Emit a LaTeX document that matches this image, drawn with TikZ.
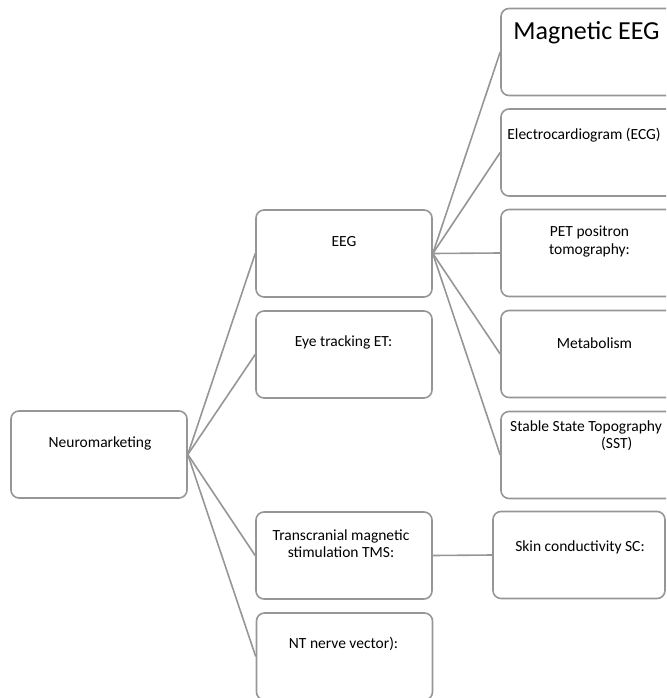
\documentclass[tikz,border=0pt]{standalone}
\usepackage{fontspec}
\setmainfont{Carlito}
\begin{document}
\begin{tikzpicture}[x=1pt,y=-1pt,
  box/.style={draw=linegray, line width=1.6pt, rounded corners=8pt, minimum width=176pt, minimum height=87pt, inner sep=0pt},
  txt/.style={inner sep=0pt, align=center, font=\fontsize{15.5}{17.5}\selectfont},
  bigtxt/.style={inner sep=0pt, align=center, font=\fontsize{26}{30}\selectfont},
  conn/.style={draw=linegray, line width=1.6pt}]
\definecolor{linegray}{RGB}{150,150,150}
\useasboundingbox (0,0) rectangle (666,698);
\clip (0,0) rectangle (666,698);
% boxes
\node[box] (neuro) at (99,454.5) {};
\node[box] (eeg) at (344,253.5) {};
\node[box] (eye) at (344,354.5) {};
\node[box] (tms) at (344,555.5) {};
\node[box] (nt) at (344.5,656.5) {};
\node[box] (mag) at (589,52) {};
\node[box] (ecg) at (589,152.5) {};
\node[box] (pet) at (589,253) {};
\node[box] (met) at (589,354) {};
\node[box] (sst) at (589,455) {};
\node[box, minimum width=172pt] (skin) at (579,555) {};
% texts
\node[txt] (tneuro) at (100,443) {Neuromarketing};
\node[txt] (teeg) at (344,242) {EEG};
\node[txt] (teye) at (343.5,342) {Eye tracking ET:};
\node[txt] (ttms) at (341,543.5) {Transcranial magnetic\\ stimulation TMS:};
\node[txt] (tnt) at (343.5,644) {NT nerve vector):};
\node[bigtxt] (tmag) at (586.5,33) {Magnetic EEG};
\node[txt] (tecg) at (584,135) {Electrocardiogram (ECG)};
\node[txt] (tpet) at (589.5,241.5) {PET positron\\tomography:};
\node[txt] (tmet) at (594.5,343) {Metabolism};
\node[txt, align=left, anchor=west] (tsst) at (510,435.5) {Stable State Topography\\\hspace*{91pt}(SST)};
\node[txt] (tskin) at (580,547) {Skin conductivity SC:};
% connectors
\foreach \t in {eeg,eye,tms,nt} \draw[conn] (neuro.east) -- (\t.west);
\foreach \t in {mag,ecg,pet,met,sst} \draw[conn] (eeg.east) -- (\t.west);
\draw[conn] (tms.east) -- (skin.west);
\end{tikzpicture}
\end{document}
